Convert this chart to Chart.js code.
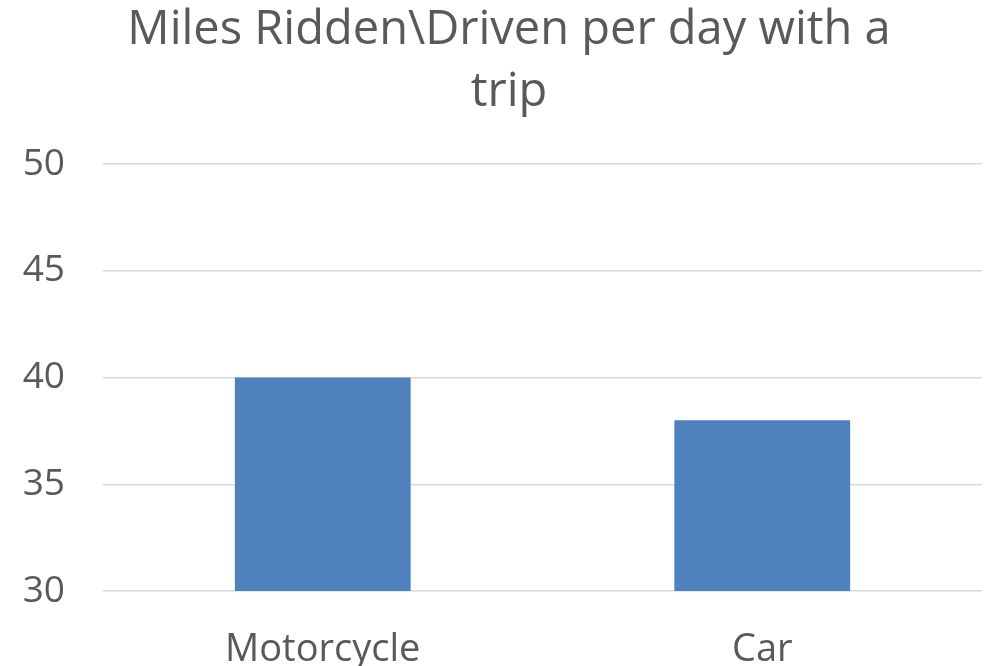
<!DOCTYPE html>
<html>
<head>
<meta charset="utf-8">
<script src="https://cdn.jsdelivr.net/npm/chart.js@4/dist/chart.umd.min.js"></script>
<style>
  html, body { margin: 0; padding: 0; background: #fff; }
  #wrap { width: 992px; height: 666px; }
</style>
</head>
<body>
<div id="wrap"><canvas id="chart"></canvas></div>
<script>
// Data
const categories = ['Motorcycle', 'Car'];
const milesPerDay = [40, 38];
const titleLines = ['Miles Ridden\\Driven per day with a', 'trip'];

const textColor = '#595959';
const fontFamily = "'Open Sans', 'Liberation Sans', sans-serif";

// the original title sits a little right of the canvas centre
const shiftTitle = {
    id: 'shiftTitle',
    afterLayout: function(chart) {
        if (chart.titleBlock) chart.titleBlock.left += 36;
    }
};

new Chart(document.getElementById('chart'), {
    type: 'bar',
    data: {
        labels: categories,
        datasets: [{
            label: 'Miles',
            data: milesPerDay,
            backgroundColor: '#4f81bd',
            borderWidth: 0,
            categoryPercentage: 1,
            barPercentage: 0.4
        }]
    },
    options: {
        responsive: true,
        maintainAspectRatio: false,
        animation: false,
        layout: {
            padding: { left: 0, right: 10, top: 0, bottom: 0 }
        },
        plugins: {
            legend: { display: false },
            tooltip: { enabled: false },
            title: {
                display: true,
                text: titleLines,
                color: textColor,
                font: { family: fontFamily, size: 47, weight: 'normal', lineHeight: 1.32 },
                padding: { top: 0, bottom: 40 }
            }
        },
        scales: {
            y: {
                min: 30,
                max: 50,
                ticks: {
                    stepSize: 5,
                    color: textColor,
                    padding: 38,
                    font: { family: fontFamily, size: 37 }
                },
                grid: { color: '#d9d9d9', lineWidth: 1.5, drawTicks: false },
                border: { display: false },
                afterFit: function(scale) { scale.width = 103; }
            },
            x: {
                ticks: {
                    color: textColor,
                    padding: 28,
                    font: { family: fontFamily, size: 38 }
                },
                grid: { display: false },
                border: { display: false },
                afterFit: function(scale) { scale.height = 75; }
            }
        }
    },
    plugins: [shiftTitle]
});
</script>
</body>
</html>
